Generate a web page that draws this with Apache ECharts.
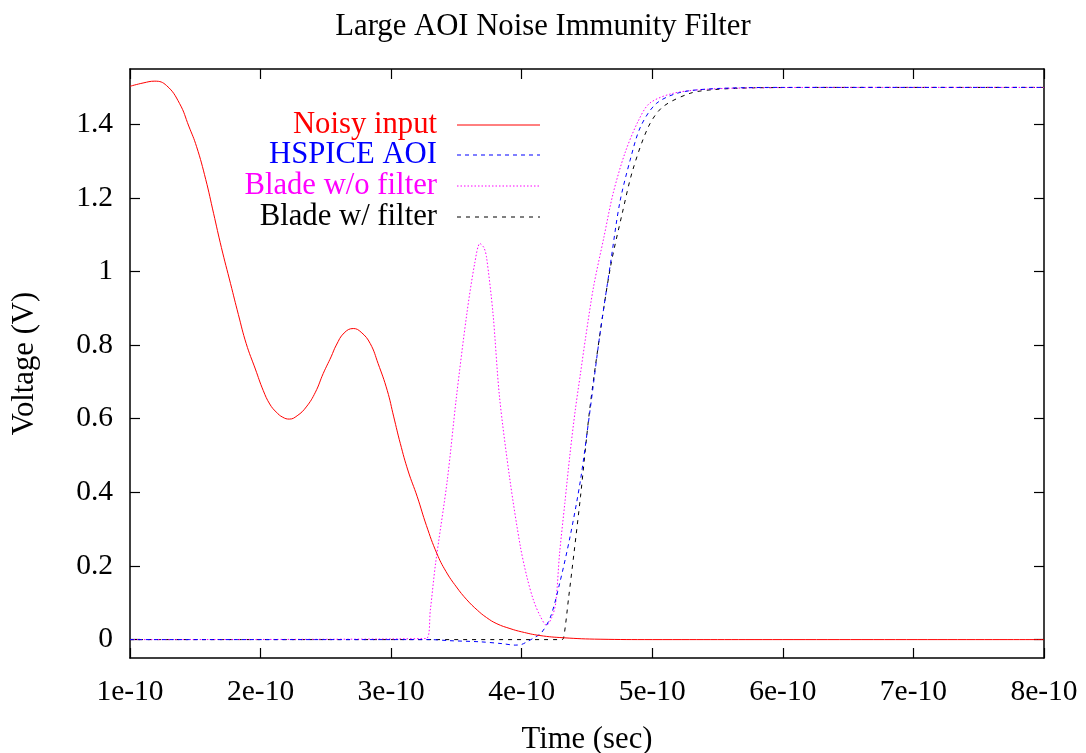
<!DOCTYPE html>
<html>
<head>
<meta charset="utf-8">
<script src="https://cdn.jsdelivr.net/npm/echarts@6/dist/echarts.min.js"></script>
<style>
html,body{margin:0;padding:0;background:#fff;}
#chart{width:1086px;height:753px;}
</style>
</head>
<body>
<div id="chart"></div>
<script>
// time values are in units of 1e-10 s
const chartTitle = 'Large AOI Noise Immunity Filter';
const xAxisName = 'Time (sec)';
const yAxisName = 'Voltage (V)';
const xTickValues = [1, 2, 3, 4, 5, 6, 7, 8];
const xTickLabels = ['1e-10', '2e-10', '3e-10', '4e-10', '5e-10', '6e-10', '7e-10', '8e-10'];
const yTickValues = [0, 0.2, 0.4, 0.6, 0.8, 1, 1.2, 1.4];
const yTickLabels = ['0', '0.2', '0.4', '0.6', '0.8', '1', '1.2', '1.4'];
const seriesNames = ['Noisy input', 'HSPICE AOI', 'Blade w/o filter', 'Blade w/ filter'];

const noisyT = [1.00, 1.10, 1.19, 1.28, 1.38, 1.45, 1.51, 1.58, 1.64, 1.70, 1.77, 1.83, 1.89, 1.96, 2.02, 2.07, 2.12, 2.17, 2.22, 2.28, 2.35, 2.42, 2.48, 2.54, 2.58, 2.64, 2.71, 2.77, 2.84, 2.90, 2.97, 3.02, 3.07, 3.13, 3.20, 3.27, 3.35, 3.42, 3.50, 3.58, 3.66, 3.73, 3.81, 3.91, 4.00, 4.14, 4.32, 4.60, 5.00, 6.00, 8.00];
const noisyV = [1.503, 1.512, 1.517, 1.505, 1.456, 1.395, 1.339, 1.250, 1.158, 1.065, 0.967, 0.883, 0.804, 0.735, 0.677, 0.640, 0.618, 0.604, 0.599, 0.608, 0.632, 0.672, 0.723, 0.768, 0.800, 0.833, 0.845, 0.835, 0.804, 0.750, 0.677, 0.605, 0.533, 0.458, 0.388, 0.310, 0.234, 0.185, 0.143, 0.108, 0.080, 0.060, 0.043, 0.030, 0.021, 0.011, 0.005, 0.001, 0.000, 0.000, 0.000];

const hspiceT = [1.00, 3.30, 3.45, 3.68, 3.85, 3.95, 4.00, 4.05, 4.10, 4.15, 4.22, 4.29, 4.37, 4.45, 4.52, 4.60, 4.68, 4.75, 4.83, 4.91, 5.03, 5.21, 5.50, 6.00, 8.00];
const hspiceV = [0.000, 0.000, -0.003, -0.006, -0.011, -0.015, -0.013, -0.004, 0.006, 0.018, 0.061, 0.152, 0.279, 0.433, 0.614, 0.832, 1.022, 1.185, 1.302, 1.393, 1.456, 1.486, 1.497, 1.500, 1.500];

const noFilterT = [1.00, 3.27, 3.30, 3.34, 3.43, 3.50, 3.58, 3.64, 3.68, 3.71, 3.73, 3.78, 3.83, 3.91, 3.99, 4.04, 4.09, 4.14, 4.19, 4.23, 4.26, 4.29, 4.33, 4.37, 4.41, 4.45, 4.49, 4.55, 4.63, 4.70, 4.79, 4.89, 4.98, 5.16, 5.42, 5.80, 6.50, 8.00];
const noFilterV = [0.000, 0.003, 0.080, 0.206, 0.433, 0.659, 0.886, 1.022, 1.076, 1.065, 1.040, 0.886, 0.659, 0.433, 0.252, 0.170, 0.107, 0.065, 0.039, 0.060, 0.098, 0.234, 0.370, 0.505, 0.623, 0.723, 0.822, 0.958, 1.094, 1.212, 1.321, 1.407, 1.457, 1.484, 1.495, 1.499, 1.500, 1.500];

const filterT = [1.00, 4.30, 4.32, 4.36, 4.40, 4.45, 4.52, 4.60, 4.68, 4.77, 4.85, 4.97, 5.08, 5.29, 5.47, 5.80, 6.50, 8.00];
const filterV = [0.000, 0.000, 0.003, 0.116, 0.234, 0.388, 0.623, 0.832, 1.013, 1.158, 1.275, 1.393, 1.447, 1.484, 1.494, 1.499, 1.500, 1.500];

const colors = ['#ff0000', '#0000ff', '#ff00ff', '#000000'];
const dashes = ['solid', [4, 4], [1.5, 2], [4, 5]];
const smoothing = [0.45, 0.3, 0.3, 0.3];
const FONT = '"Liberation Serif", "Times New Roman", serif';
const FS_TICK = 29.5;
const FS_TEXT = 30.7;

function pairs(t, v) { return t.map((x, i) => [x, v[i]]); }
const seriesData = [pairs(noisyT, noisyV), pairs(hspiceT, hspiceV), pairs(noFilterT, noFilterV), pairs(filterT, filterV)];

const chart = echarts.init(document.getElementById('chart'), null, {renderer: 'canvas'});

const gridLeft = 130, gridRight = 42, gridTop = 69, gridBottom = 95;

const axisCommon = {
  axisLine: {show: true, onZero: false, lineStyle: {color: '#000', width: 1.5}},
  axisTick: {show: true, inside: true, length: 10, lineStyle: {color: '#000', width: 1.2}},
  splitLine: {show: false}
};

const legendX = 437, lineX0 = 457, lineX1 = 540;
const legendY = [125, 155, 186, 217];
const graphics = [];
seriesNames.forEach((n, i) => {
  graphics.push({
    type: 'text', x: legendX, y: legendY[i],
    style: {text: n, fill: colors[i], font: FS_TEXT + 'px ' + FONT, textAlign: 'right', textVerticalAlign: 'middle'}
  });
  graphics.push({
    type: 'line', shape: {x1: lineX0, y1: legendY[i], x2: lineX1, y2: legendY[i]},
    style: {stroke: colors[i], lineWidth: 1, lineDash: dashes[i] === 'solid' ? null : dashes[i]}
  });
});

chart.setOption({
  animation: false,
  backgroundColor: '#fff',
  title: {
    text: chartTitle, left: 'center', top: 6,
    textStyle: {fontFamily: FONT, fontSize: FS_TEXT, fontWeight: 'normal', color: '#000'}
  },
  grid: {left: gridLeft, right: gridRight, top: gridTop, bottom: gridBottom, containLabel: false, outerBoundsMode: 'none'},
  xAxis: [
    Object.assign({}, axisCommon, {
      type: 'value', min: 1, max: 8, interval: 1, position: 'bottom',
      name: xAxisName, nameLocation: 'middle', nameGap: 66,
      nameTextStyle: {fontFamily: FONT, fontSize: FS_TEXT, color: '#000'},
      axisLabel: {
        show: true, margin: 19, color: '#000', fontFamily: FONT, fontSize: FS_TICK,
        formatter: v => xTickLabels[xTickValues.indexOf(Math.round(v))] || ''
      }
    }),
    Object.assign({}, axisCommon, {
      type: 'value', min: 1, max: 8, interval: 1, position: 'top',
      axisLabel: {show: false}
    })
  ],
  yAxis: [
    Object.assign({}, axisCommon, {
      type: 'value', min: -0.05, max: 1.55, position: 'left',
      name: yAxisName, nameLocation: 'middle', nameGap: 90, nameRotate: 90,
      nameTextStyle: {fontFamily: FONT, fontSize: FS_TEXT, color: '#000'},
      axisTick: Object.assign({}, axisCommon.axisTick, {customValues: yTickValues}),
      axisLabel: {
        show: true, margin: 17, color: '#000', fontFamily: FONT, fontSize: FS_TICK,
        customValues: yTickValues,
        formatter: v => { const i = yTickValues.findIndex(y => Math.abs(y - v) < 1e-6); return i >= 0 ? yTickLabels[i] : ''; }
      }
    }),
    Object.assign({}, axisCommon, {
      type: 'value', min: -0.05, max: 1.55, position: 'right',
      axisTick: Object.assign({}, axisCommon.axisTick, {customValues: yTickValues}),
      axisLabel: {show: false, customValues: yTickValues}
    })
  ],
  series: seriesData.map((d, i) => ({
    name: seriesNames[i], type: 'line', data: d,
    xAxisIndex: 0, yAxisIndex: 0,
    showSymbol: false, smooth: smoothing[i],
    lineStyle: {color: colors[i], width: 1, type: dashes[i]},
    z: 10 - i
  })),
  graphic: graphics
});
</script>
</body>
</html>
